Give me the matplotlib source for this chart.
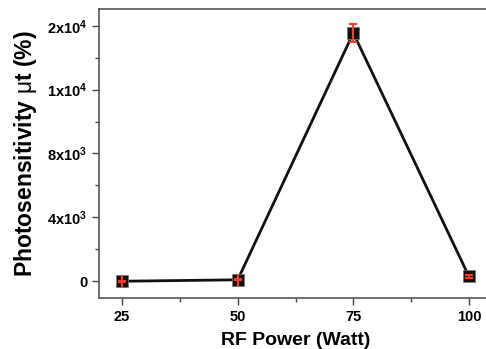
import numpy as np
import matplotlib
matplotlib.use('Agg')
import matplotlib.pyplot as plt
from matplotlib.ticker import FixedLocator, FixedFormatter

plt.rcParams['font.family'] = ['Liberation Sans', 'DejaVu Sans']
plt.rcParams['mathtext.fontset'] = 'custom'
plt.rcParams['mathtext.bf'] = 'Liberation Sans:bold'
plt.rcParams['mathtext.rm'] = 'Liberation Sans'

power = [25, 50, 75, 100]
sens = [0, 90, 15550, 310]
err = [20, 20, 550, 100]

yticks = [0, 4000, 8000, 12000, 16000]
ylabels = ['0', r'$\mathbf{4x10^{3}}$', r'$\mathbf{8x10^{3}}$',
           r'$\mathbf{1x10^{4}}$', r'$\mathbf{2x10^{4}}$']
xticks = [25, 50, 75, 100]

fig = plt.figure(figsize=(4.86, 3.49), dpi=100)
ax = fig.add_axes([99/486, 51/349, (492-99)/486, 289/349])

ax.plot(power, sens, color='#111111', lw=2, zorder=2)
ax.plot(power, sens, 's', color='#111111', ms=9, mec='#777777', mew=0.6, zorder=3)
ax.errorbar(power, sens, yerr=err, fmt='none', ecolor='#ff3b1f', elinewidth=1.5,
            capsize=3, capthick=1.5, zorder=4)
# red vertical stroke through the small markers
ax.plot(power[:2], sens[:2], '|', color='#ff3b1f', ms=8, mew=1.5, zorder=5)

ax.set_xlim(20, 105)
ax.set_ylim(-1050, 17050)

ax.yaxis.set_major_locator(FixedLocator(yticks))
ax.yaxis.set_major_formatter(FixedFormatter(ylabels))
ax.yaxis.set_minor_locator(FixedLocator([2000, 6000, 10000, 14000]))
ax.xaxis.set_major_locator(FixedLocator(xticks))
ax.xaxis.set_minor_locator(FixedLocator([37.5, 62.5, 87.5]))

ax.tick_params(which='major', direction='out', length=5, width=1, labelsize=10.5, color='#444444')
ax.tick_params(which='minor', direction='out', length=3, width=1, color='#444444')
for lab in ax.get_xticklabels() + ax.get_yticklabels():
    lab.set_fontweight('bold')
for s in ax.spines.values():
    s.set_color('#555555')
    s.set_linewidth(1.2)

ax.set_xlabel('RF Power (Watt)', fontsize=14, fontweight='bold', labelpad=6)
ax.set_ylabel(r'Photosensitivity $\mathrm{\mu}$t (%)', fontsize=16.5, fontweight='bold', labelpad=6)

fig.savefig('out.png', dpi=100)
